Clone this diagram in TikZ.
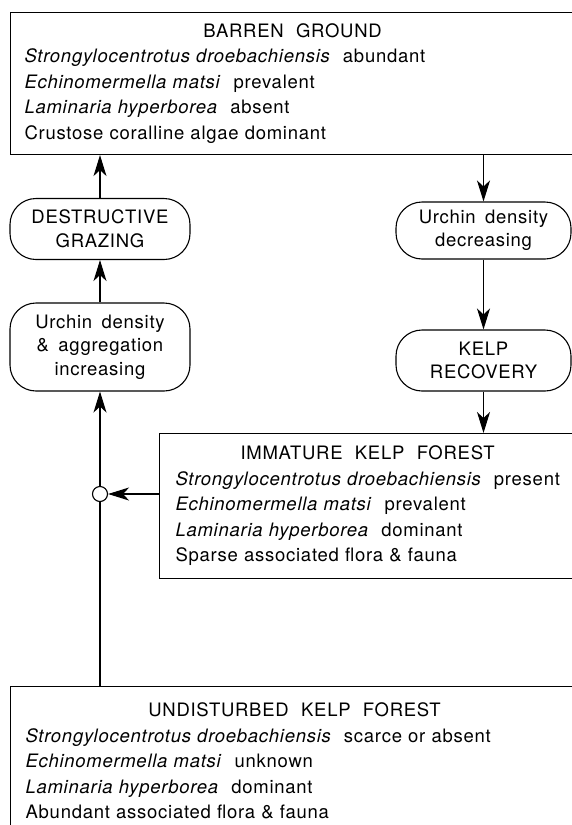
\documentclass[tikz,border=0pt]{standalone}
\usepackage{fontspec}
\setmainfont{TeX Gyre Heros}[LetterSpace=4,WordSpace=1.6]
\usetikzlibrary{arrows.meta}

\begin{document}
\begin{tikzpicture}[x=1pt,y=-1pt,->,>={Stealth[length=21pt,width=13pt,inset=6pt]},
                    line width=1.1pt,font=\fontsize{18.5}{25.5}\selectfont]
  \tikzstyle{zone}=[draw,anchor=north west,align=left,inner ysep=0pt]
  \tikzstyle{stage}=[draw,rounded corners=26pt,align=center,inner sep=2pt,
                     font=\fontsize{18.5}{23.5}\selectfont]
  \tikzstyle{junction}=[draw,circle,fill=white,inner sep=0pt,minimum size=15pt]

  \useasboundingbox (0,0) rectangle (572,825);
  \clip (0,0) rectangle (572,825);

  % community states
  \node[zone,inner xsep=14pt,text width=536pt,minimum height=142pt] (barren) at (10,12)
    {\makebox[\linewidth]{BARREN\ \ GROUND}\\
     \textit{Strongylocentrotus droebachiensis}\ \ abundant\\
     \textit{Echinomermella matsi}\ \ prevalent\\
     \textit{Laminaria hyperborea}\ \ absent\\
     Crustose coralline algae dominant};
  \node[zone,inner xsep=16pt,text width=384pt,minimum height=145pt] (immature) at (159,433)
    {\makebox[\linewidth]{IMMATURE\ \ KELP\ \ FOREST}\\
     \textit{Strongylocentrotus droebachiensis}\ \ present\\
     \textit{Echinomermella matsi}\ \ prevalent\\
     \textit{Laminaria hyperborea}\ \ dominant\\
     Sparse associated flora \& fauna};
  \node[zone,inner xsep=15pt,text width=538pt,minimum height=149pt] (undisturbed) at (10,686)
    {\makebox[\linewidth]{UNDISTURBED\ \ KELP\ \ FOREST}\\
     \textit{Strongylocentrotus droebachiensis}\ \ scarce or absent\\
     \textit{Echinomermella matsi}\ \ unknown\\
     \textit{Laminaria hyperborea}\ \ dominant\\
     Abundant associated flora \& fauna};

  % transitions
  \node[stage,minimum width=180pt,minimum height=61pt] (grazing) at (100,229) {DESTRUCTIVE\\GRAZING};
  \node[stage,minimum width=180pt,minimum height=88pt] (increasing) at (100,347) {Urchin density\\\& aggregation\\increasing};
  \node[stage,minimum width=175pt,minimum height=57pt] (decreasing) at (483.5,230.5) {Urchin density\\decreasing};
  \node[stage,minimum width=175pt,minimum height=61pt] (recovery) at (483.5,360.5) {KELP\\RECOVERY};
  \node[junction] (join) at (100,494) {};

  \path (grazing.north) edge (grazing.north |- barren.south)
        (increasing.north) edge (grazing.south)
        (join.north) edge (increasing.south)
        (join.south |- undisturbed.north) edge[-] (join.south)
        (immature.west |- join) edge (join.east)
        (decreasing.north |- barren.south) edge (decreasing.north)
        (decreasing.south) edge (recovery.north)
        (recovery.south) edge (recovery.south |- immature.north);

\end{tikzpicture}
\end{document}
